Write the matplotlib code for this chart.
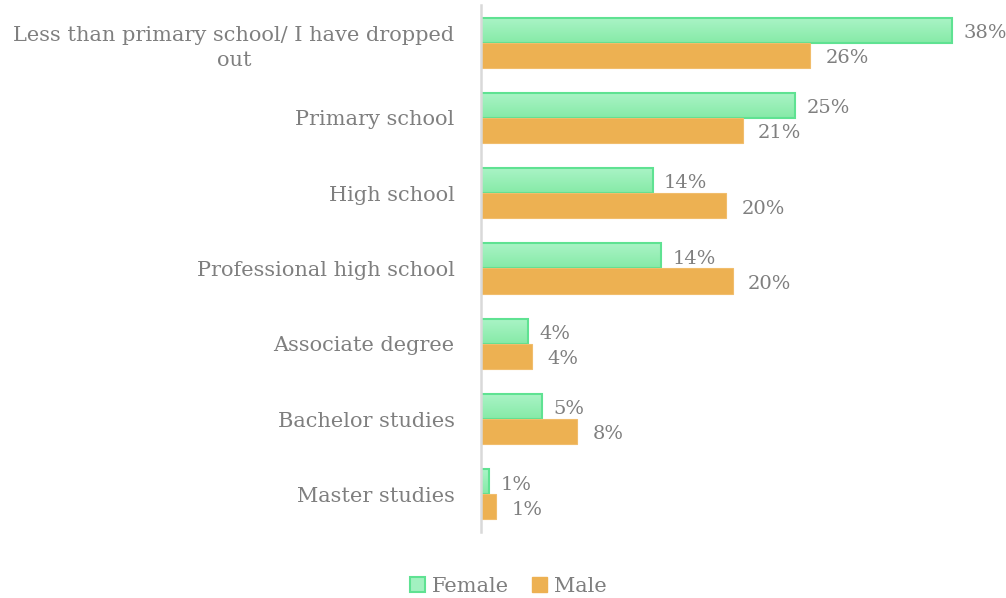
import numpy as np
import matplotlib.pyplot as plt
from matplotlib.colors import LinearSegmentedColormap
from matplotlib.patches import Rectangle

categories = ['Less than primary school/ I have dropped\nout', 'Primary school', 'High school',
              'Professional high school', 'Associate degree', 'Bachelor studies', 'Master studies']
female = [37.6, 25.1, 13.7, 14.4, 3.75, 4.9, 0.64]
male = [26.3, 20.9, 19.6, 20.1, 4.1, 7.7, 1.2]

text_col = '#7f7f7f'
green_top, green_bot, green_edge = '#abf4c7', '#86eaa7', '#5fe292'
orange, orange_edge = '#edb152', '#f1bd6c'
font = 'DejaVu Serif'

plt.rcParams['font.family'] = font

fig = plt.figure(figsize=(10.06, 5.98), dpi=100)
ax = fig.add_axes([481 / 1006, 1 - 532 / 598, 501 / 1006, 527 / 598])

y = np.arange(len(categories))
h = 0.333

gbars = ax.barh(y - h / 2, female, height=h, color='none', edgecolor=green_edge, linewidth=1.5, zorder=3)
obars = ax.barh(y + h / 2, male, height=h, color=orange, edgecolor=orange_edge, linewidth=0.8, zorder=3)

# vertical gradient fill inside the green bars
cmap = LinearSegmentedColormap.from_list('fem', [green_top, green_bot])
grad = np.linspace(0, 1, 64).reshape(-1, 1)
for b in gbars:
    x0, y0, w, hh = b.get_x(), b.get_y(), b.get_width(), b.get_height()
    im = ax.imshow(grad, cmap=cmap, aspect='auto', origin='upper',
                   extent=(x0, x0 + w, y0 + hh, y0), zorder=2, interpolation='bilinear')
    im.set_clip_path(Rectangle((x0, y0), w, hh, transform=ax.transData))

ax.set_xlim(0, 40)
ax.set_ylim(len(categories) - 0.5, -0.5)
ax.set_aspect('auto')

for b, v in zip(gbars, female):
    ax.annotate(f'{v:.0f}%', (b.get_width(), b.get_y() + b.get_height() / 2),
                xytext=(8, -2), textcoords='offset points', va='center', ha='left',
                color=text_col, fontsize=14, annotation_clip=False)
for b, v in zip(obars, male):
    ax.annotate(f'{v:.0f}%', (b.get_width(), b.get_y() + b.get_height() / 2),
                xytext=(11, -2), textcoords='offset points', va='center', ha='left',
                color=text_col, fontsize=14, annotation_clip=False)

ax.set_yticks(y)
ax.set_yticklabels(categories, color=text_col, fontsize=15, multialignment='center', linespacing=1.45)
ax.tick_params(axis='y', length=0, pad=19)
ax.set_xticks([])
for s in ['top', 'right', 'bottom']:
    ax.spines[s].set_visible(False)
ax.spines['left'].set_color('#d9d9d9')
ax.spines['left'].set_linewidth(1.8)
ax.spines['left'].set_zorder(4)

# legend
handles = [Rectangle((0, 0), 1, 1, facecolor='#a2f1c0', edgecolor=green_edge, linewidth=1.5),
           Rectangle((0, 0), 1, 1, facecolor=orange, edgecolor=orange)]
fig.legend(handles, ['Female', 'Male'], loc='center', bbox_to_anchor=(508 / 1006, 1 - 586 / 598),
           ncol=2, frameon=False, fontsize=15, labelcolor=text_col, handlelength=0.75,
           handleheight=0.75, handletextpad=0.3, columnspacing=1.1)

fig.savefig('out.png', dpi=100)
